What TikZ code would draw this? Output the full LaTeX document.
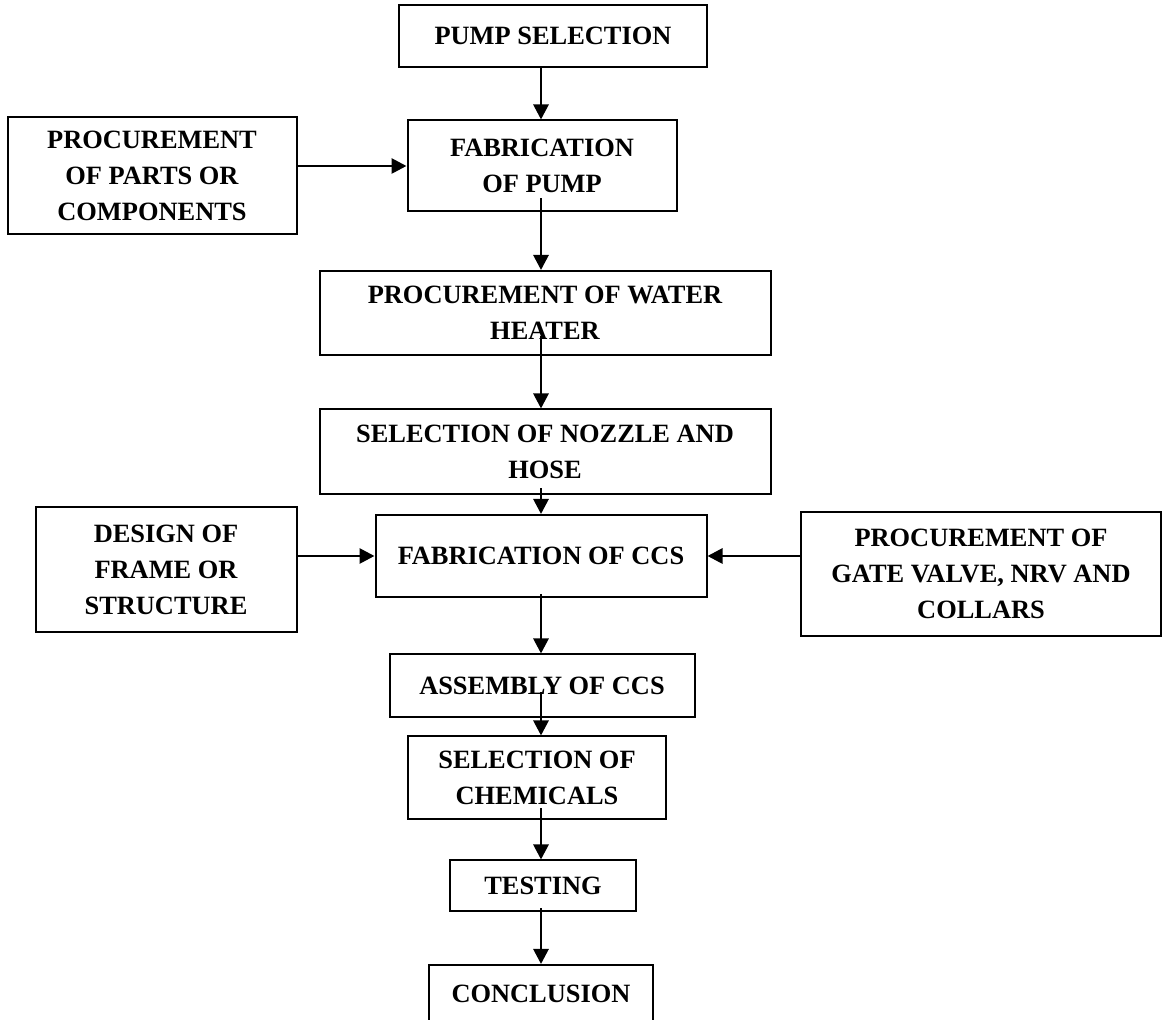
\documentclass[tikz,border=0pt]{standalone}
\usepackage{fontspec}
\setmainfont{Liberation Serif}
\usetikzlibrary{arrows.meta}

\begin{document}
\begin{tikzpicture}[x=0.5pt,y=-0.5pt,
  blk/.style={draw,line width=1pt,inner sep=0pt,align=center,
    font=\fontsize{13.2pt}{18pt}\selectfont\bfseries},
  flow/.style={-{Triangle[length=7.5pt,width=7.5pt]},line width=1.4pt}]
  \useasboundingbox (0,0) rectangle (1163,1020);
  \coordinate (spine) at (541,0);
  \node[blk,minimum width=154pt,minimum height=31pt] (pump) at (553,36) {PUMP SELECTION};
  \node[blk,minimum width=144.5pt,minimum height=58.5pt] (parts) at (152,176) {PROCUREMENT\\OF PARTS OR\\COMPONENTS};
  \node[blk,minimum width=134.5pt,minimum height=45.5pt] (fabpump) at (542,166) {FABRICATION\\OF PUMP};
  \node[blk,minimum width=225.5pt,minimum height=42pt] (heater) at (545,313) {PROCUREMENT OF WATER\\HEATER};
  \node[blk,minimum width=225.5pt,minimum height=42.5pt] (nozzle) at (545,452) {SELECTION OF NOZZLE AND\\HOSE};
  \node[blk,minimum width=130.5pt,minimum height=62.5pt] (frame) at (166,570) {DESIGN OF\\FRAME OR\\STRUCTURE};
  \node[blk,minimum width=165.5pt,minimum height=41pt] (fabccs) at (541,556) {FABRICATION OF CCS};
  \node[blk,minimum width=180pt,minimum height=62pt] (gate) at (981,574) {PROCUREMENT OF\\GATE VALVE, NRV AND\\COLLARS};
  \node[blk,minimum width=152.5pt,minimum height=31.5pt] (assembly) at (542,686) {ASSEMBLY OF CCS};
  \node[blk,minimum width=129pt,minimum height=41.5pt] (chem) at (537,778) {SELECTION OF\\CHEMICALS};
  \node[blk,minimum width=93pt,minimum height=25.5pt] (testing) at (543,886) {TESTING};
  \node[blk,minimum width=112pt,minimum height=29pt] (conclusion) at (541,994) {CONCLUSION};
  % main line
  \draw[flow] (pump.south -| spine) -- (fabpump.north -| spine);
  \draw[flow] ([yshift=7pt]fabpump.south -| spine) -- (heater.north -| spine);
  \draw[flow] ([yshift=10pt]heater.south -| spine) -- (nozzle.north -| spine);
  \draw[flow] ([yshift=3.5pt]nozzle.south -| spine) -- (fabccs.north -| spine);
  \draw[flow] ([yshift=2pt]fabccs.south -| spine) -- (assembly.north -| spine);
  \draw[flow] ([yshift=13pt]assembly.south -| spine) -- (chem.north -| spine);
  \draw[flow] ([yshift=6pt]chem.south -| spine) -- (testing.north -| spine);
  \draw[flow] ([yshift=2pt]testing.south -| spine) -- (conclusion.north -| spine);
  % side inputs
  \draw[flow] (parts.east |- fabpump.west) -- (fabpump.west);
  \draw[flow] (frame.east |- fabccs.west) -- (fabccs.west);
  \draw[flow] (gate.west |- fabccs.east) -- (fabccs.east);
\end{tikzpicture}
\end{document}
